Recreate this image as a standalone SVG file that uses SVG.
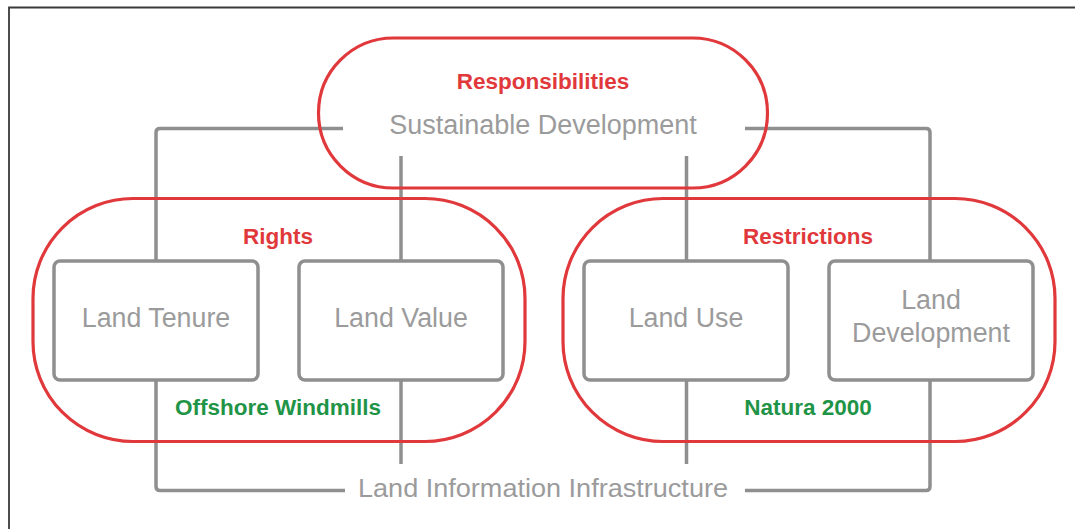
<svg xmlns="http://www.w3.org/2000/svg" width="1075" height="529" viewBox="0 0 1075 529">
<style>
.conn{fill:none;stroke:#8f8f90;stroke-width:3.5;stroke-linejoin:round;stroke-linecap:butt}
.oval{fill:none;stroke:#e0383b;stroke-width:3.2}
.box{fill:#ffffff;stroke:#8f8f90;stroke-width:3.5}
.gt{font-family:"Liberation Sans",Arial,sans-serif;fill:#9b9b9c;text-anchor:middle}
.rt{font-family:"Liberation Sans",Arial,sans-serif;font-weight:bold;fill:#e0383b;text-anchor:middle;font-size:22.5px}
.gr{font-family:"Liberation Sans",Arial,sans-serif;font-weight:bold;fill:#1f9447;text-anchor:middle;font-size:22.5px}
</style>
<rect width="1075" height="529" fill="#ffffff"/>
<path d="M9 529 V7.5 H1075" fill="none" stroke="#3a3a3a" stroke-width="1.8"/>
<g id="connectors">
<path class="conn" d="M343 128.5 H160 Q156 128.5 156 132.5 V261"/>
<path class="conn" d="M401 156 V261"/>
<path class="conn" d="M686.5 156 V261"/>
<path class="conn" d="M745 128.5 H926 Q930 128.5 930 132.5 V261"/>
<path class="conn" d="M156 380 V486.5 Q156 490.5 160 490.5 H345"/>
<path class="conn" d="M401 380 V464"/>
<path class="conn" d="M686.5 380 V464"/>
<path class="conn" d="M930 380 V486.5 Q930 490.5 926 490.5 H745"/>
</g>
<g id="responsibilities">
<rect class="oval" x="318.5" y="38" width="449" height="150" rx="75"/>
<text class="rt" x="543" y="89">Responsibilities</text>
<text class="gt" x="543" y="134" font-size="27">Sustainable Development</text>
</g>
<g id="rights">
<rect class="oval" x="33" y="198.5" width="492" height="243" rx="100"/>
<text class="rt" x="278" y="244">Rights</text>
<text class="gr" x="278" y="415">Offshore Windmills</text>
</g>
<g id="restrictions">
<rect class="oval" x="563" y="198.5" width="492" height="243" rx="100"/>
<text class="rt" x="808" y="244">Restrictions</text>
<text class="gr" x="808" y="415">Natura 2000</text>
</g>
<g id="land-tenure">
<rect class="box" x="54" y="261" width="204" height="119" rx="6"/>
<text class="gt" x="156" y="327" font-size="26.8">Land Tenure</text>
</g>
<g id="land-value">
<rect class="box" x="299" y="261" width="204" height="119" rx="6"/>
<text class="gt" x="401" y="327" font-size="26.8">Land Value</text>
</g>
<g id="land-use">
<rect class="box" x="584" y="261" width="204" height="119" rx="6"/>
<text class="gt" x="686" y="327" font-size="26.8">Land Use</text>
</g>
<g id="land-development">
<rect class="box" x="829" y="261" width="204" height="119" rx="6"/>
<text class="gt" x="931" y="309" font-size="26.8">Land</text>
<text class="gt" x="931" y="342" font-size="26.8">Development</text>
</g>
<g id="land-information-infrastructure">
<text class="gt" x="543" y="497" font-size="26" textLength="370" lengthAdjust="spacingAndGlyphs">Land Information Infrastructure</text>
</g>
</svg>
